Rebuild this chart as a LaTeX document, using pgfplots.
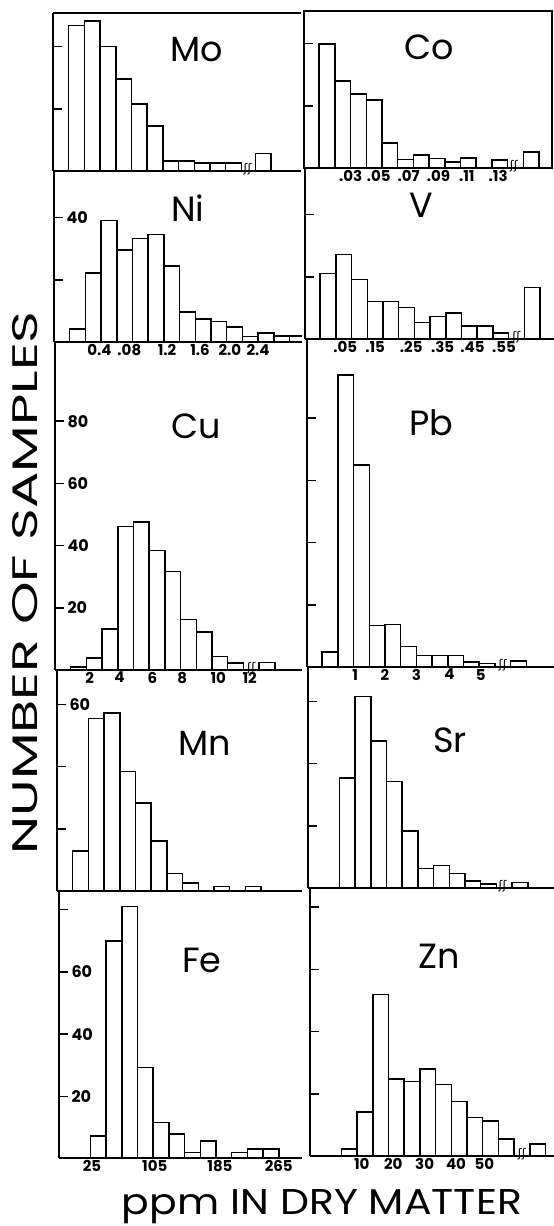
\documentclass[border=0pt]{standalone}
\usepackage{pgfplots}
\pgfplotsset{compat=1.18}
\usepackage{fontspec}
\usepackage{graphicx}
\setmainfont{Poppins}
\newfontfamily\brk{DejaVu Sans}

\newcommand{\tfont}{\fontsize{15}{15}\selectfont\bfseries}
\newcommand{\pfont}{\fontsize{35}{35}\selectfont}

\pgfplotsset{
  panel/.style={
    scale only axis, anchor=south west,
    x=15.7pt, y=3.11pt,
    xmin=0, ymin=0, enlargelimits=false,
    axis x line=bottom, axis y line=left,
    axis line style={-, line width=2pt},
    axis on top, clip mode=individual,
    ybar, bar width=1, bar shift=0pt,
    ytick={20,40,60,80}, yticklabels={,,,},
    xtick=\empty,
    tick align=inside, major tick length=9pt,
    ytick style={line width=1.5pt, black},
    xtick style={draw=none},
    yticklabel style={anchor=west, xshift=9pt, font=\fontsize{16}{16}\selectfont\bfseries},
    xticklabel style={font=\tfont, inner sep=2pt},
  },
  bars/.style={fill=white, draw=black, line width=1.5pt},
}
\tikzset{
  nm/.style={font=\pfont, anchor=base},
  ss/.style={font=\brk\fontsize{12}{12}\selectfont, anchor=base, yshift=-1.5pt, inner sep=0pt},
}

\begin{document}
\begin{tikzpicture}
\path[use as bounding box] (0,0) rectangle (554pt,1226pt);

% ---- row 1 ----
\begin{axis}[panel, at={(53pt,1055pt)}, xmax=15.8, ymax=50.8,
  axis x line=box]
\addplot[bars] coordinates {(1.5,46.8)(2.5,48.2)(3.5,40)(4.5,29.6)(5.5,21.5)(6.5,14.5)
  (7.5,3.2)(8.5,3.2)(9.5,2.5)(10.5,2.5)(11.5,2.5)(13.4,5.7)};
\node[nm] at (rel axis cs:0.58,0.69) {Mo};
\node[ss] at (axis cs:12.4,0) {ʃʃ};
\end{axis}

\begin{axis}[panel, at={(303.5pt,1058pt)}, xmax=15.83, ymax=50.5,
  axis lines=box, tick pos=left,
  xtick={3,4.8,6.7,8.6,10.4,12.4}, xticklabels={.03,.05,.07,.09,.11,.13}]
\addplot[bars] coordinates {(1.5,39.8)(2.5,28)(3.5,23.8)(4.5,21.8)(5.5,8.1)(6.5,2.8)
  (7.5,4.1)(8.5,3)(9.5,2)(10.5,3.2)(12.5,2.5)(14.5,5.2)};
\node[nm] at (rel axis cs:0.505,0.688) {Co};
\node[ss] at (axis cs:13.4,0) {ʃʃ};
\end{axis}

% ---- row 2 ----
\begin{axis}[panel, at={(54pt,884pt)}, xmax=15.8, ymax=55,
  yticklabels={,40},
  xtick={2.9,4.8,7.2,9.3,11.2,13}, xticklabels={0.4,.08,1.2,1.6,2.0,2.4}]
\addplot[bars] coordinates {(1.5,4.1)(2.5,22.2)(3.5,39)(4.5,29.5)(5.5,33.2)(6.5,34.6)
  (7.5,24.5)(8.5,9.6)(9.5,7.4)(10.5,6.6)(11.5,4.8)(12.5,1.8)(13.5,2.9)(14.5,2)(15.5,2)};
\node[nm] at (rel axis cs:0.54,0.703) {Ni};
\end{axis}

\begin{axis}[panel, at={(304.5pt,887pt)}, xmax=15.9, ymax=55,
  xtick={2.6,4.5,6.8,8.8,10.7,12.7}, xticklabels={.05,.15,.25,.35,.45,.55}]
\addplot[bars] coordinates {(1.5,21.1)(2.5,27.1)(3.5,19.2)(4.5,12)(5.5,12)(6.5,10.1)
  (7.5,5.3)(8.5,7.2)(9.5,8.3)(10.5,4.2)(11.5,4.2)(12.5,2)(14.5,16.6)};
\node[nm] at (rel axis cs:0.467,0.708) {V};
\node[ss] at (axis cs:13.5,0) {ʃʃ};
\end{axis}

% ---- row 3 ----
\begin{axis}[panel, at={(55pt,556pt)}, xmax=15.73, ymax=105.5,
  yticklabels={20,40,60,80},
  xtick={2.2,4.1,6.2,8.1,10.4,12.4}, xticklabels={2,4,6,8,10,12}]
\addplot[bars] coordinates {(1.5,1)(2.5,3.8)(3.5,13.2)(4.5,46.2)(5.5,47.6)(6.5,38.4)
  (7.5,31.6)(8.5,16.2)(9.5,12.2)(10.5,4.3)(11.5,2.2)(13.5,2.4)};
\node[nm] at (rel axis cs:0.57,0.707) {Cu};
\node[ss] at (axis cs:12.5,0) {ʃʃ};
\end{axis}

\begin{axis}[panel, at={(306.5pt,559pt)}, xmax=15.76, ymax=105.5,
  xtick={3.1,5,7,9.1,11.1}, xticklabels={1,2,3,4,5}]
\addplot[bars] coordinates {(1.5,4.8)(2.5,93.9)(3.5,64.9)(4.5,13.4)(5.5,13.7)(6.5,6.6)
  (7.5,3.7)(8.5,3.7)(9.5,3.7)(10.5,1.6)(11.5,1.1)(13.5,1.9)};
\node[nm] at (rel axis cs:0.503,0.707) {Pb};
\node[ss] at (axis cs:12.5,0) {ʃʃ};
\end{axis}

% ---- row 4 ----
\begin{axis}[panel, at={(57pt,335pt)}, xmax=15.6, ymax=71,
  yticklabels={,,60}]
\addplot[bars] coordinates {(1.5,12.9)(2.5,55.4)(3.5,57.3)(4.5,38.5)(5.5,28.3)(6.5,16.1)
  (7.5,5.7)(8.5,2.5)(10.5,1.5)(12.5,1.5)};
\node[nm] at (rel axis cs:0.604,0.615) {Mn};
\end{axis}

\begin{axis}[panel, at={(308pt,338pt)}, xmax=15.67, ymax=71]
\addplot[bars] coordinates {(2.5,35.3)(3.5,61.5)(4.5,47.3)(5.5,34.2)(6.5,18.3)(7.5,6.3)
  (8.5,7.3)(9.5,4.6)(10.5,2.3)(11.5,1.3)(13.5,1.7)};
\node[nm] at (rel axis cs:0.577,0.615) {Sr};
\node[ss] at (axis cs:12.4,0) {ʃʃ};
\end{axis}

% ---- row 5 ----
\begin{axis}[panel, at={(59pt,67.5pt)}, xmax=15.48, ymax=86,
  yticklabels={20,40,60,},
  xtick={2.1,6.1,10.25,14}, xticklabels={25,105,185,265}]
\addplot[bars] coordinates {(2.5,7.3)(3.5,69.9)(4.5,81)(5.5,29.2)(6.5,11.5)(7.5,7.8)
  (8.5,2)(9.5,5.7)(11.5,2)(12.5,3)(13.5,3)};
\node[nm] at (rel axis cs:0.588,0.697) {Fe};
\end{axis}

\begin{axis}[panel, at={(310pt,70pt)}, xmax=15.54, ymax=86.2,
  xtick={3.3,5.3,7.3,9.3,11.1}, xticklabels={10,20,30,40,50}]
\addplot[bars] coordinates {(2.5,2.2)(3.5,14.1)(4.5,52)(5.5,24.8)(6.5,24)(7.5,28)
  (8.5,23)(9.5,17.6)(10.5,12.3)(11.5,11.2)(12.5,5.4)(14.5,3.8)};
\node[nm] at (rel axis cs:0.529,0.70) {Zn};
\node[ss] at (axis cs:13.5,0) {ʃʃ};
\end{axis}

% ---- figure labels ----
\node[rotate=90, anchor=base, inner sep=0pt] at (37pt,643pt)
  {\resizebox{543pt}{25pt}{NUMBER OF SAMPLES}};
\node[anchor=base, inner sep=0pt] at (322pt,12pt)
  {\resizebox{400pt}{25pt}{ppm IN DRY MATTER}};
\end{tikzpicture}
\end{document}
